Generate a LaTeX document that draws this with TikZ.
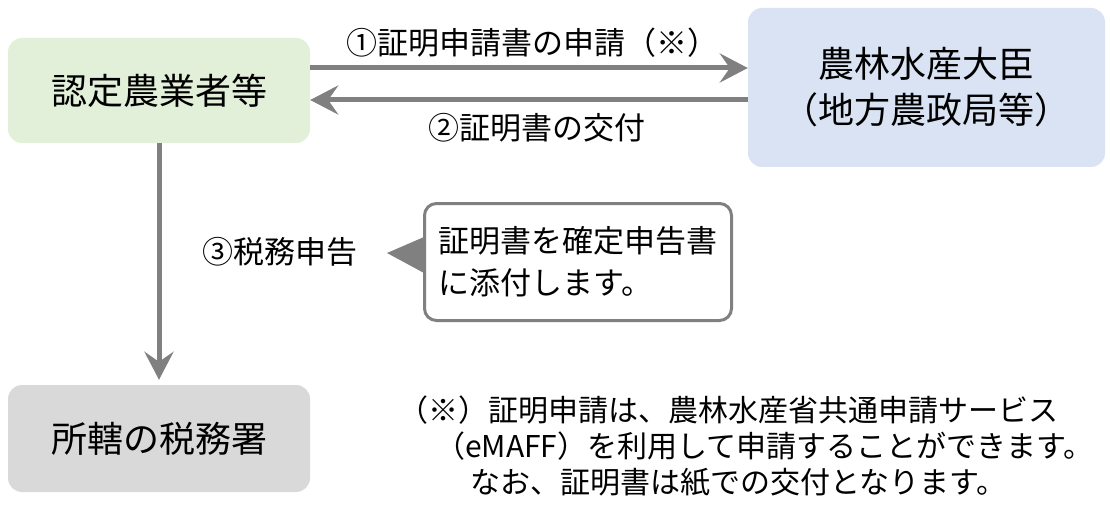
\documentclass[tikz,border=0pt]{standalone}
\usepackage{fontspec}
\setmainfont{Noto Sans CJK JP}
\usetikzlibrary{arrows.meta,calc}
\definecolor{gboxc}{HTML}{E2F0D9}
\definecolor{bboxc}{HTML}{DAE3F3}
\definecolor{grayboxc}{HTML}{D9D9D9}
\definecolor{arrgray}{HTML}{808080}
\begin{document}
\begin{tikzpicture}[x=1pt,y=-1pt,
 box/.style={rounded corners=14pt, inner sep=0pt, font=\fontsize{36}{46}\selectfont, align=center},
 lbl/.style={font=\fontsize{31}{42}\selectfont, inner sep=0pt},
 note/.style={font=\fontsize{30}{36}\selectfont, inner sep=0pt, anchor=west},
 arr/.style={draw=arrgray, line width=5pt, -{Stealth[length=28pt,width=29pt,inset=10pt]}}]
\useasboundingbox (0,0) rectangle (1110,505);
\node[box, fill=gboxc, minimum width=302pt, minimum height=105pt] (farmer) at (159,90.5) {認定農業者等};
\node[box, fill=bboxc, minimum width=357pt, minimum height=159pt] (minister) at (926.5,87.5) {農林水産大臣\\（地方農政局等）};
\node[box, fill=grayboxc, minimum width=302pt, minimum height=107pt] (office) at (159,438.5) {所轄の税務署};
\node[draw=arrgray, line width=3pt, fill=white, rounded corners=12pt, minimum width=307pt, minimum height=117pt, inner sep=0pt, align=left, font=\fontsize{31}{42}\selectfont] (callout) at (578,262) {証明書を確定申告書\\に添付します。};
\fill[arrgray] ($(callout.west)+(1,-25)$) -- ($(callout.west)+(-36,-9)$) -- ($(callout.west)+(1,11)$) -- cycle;
\coordinate (a1) at ($(farmer.east)+(0,-22.5)$);
\coordinate (a2) at ($(farmer.east)+(0,9.5)$);
\draw[arr] (a1) -- (a1 -| minister.west);
\draw[arr] (a2 -| minister.west) -- (a2);
\draw[arr, shorten >=5pt] (farmer.south) -- (office.north);
\node[lbl] (l1) at (532,43) {①証明申請書の申請（※）};
\node[lbl] (l2) at (536.5,128) {②証明書の交付};
\node[lbl] (l3) at (280,252) {③税務申告};
\node[note] (n1) at (398,410) {（※）証明申請は、農林水産省共通申請サービス};
\node[note] (n2) at (435,446) {（eMAFF）を利用して申請することができます。};
\node[note] (n3) at (470,482) {なお、証明書は紙での交付となります。};
\end{tikzpicture}
\end{document}
